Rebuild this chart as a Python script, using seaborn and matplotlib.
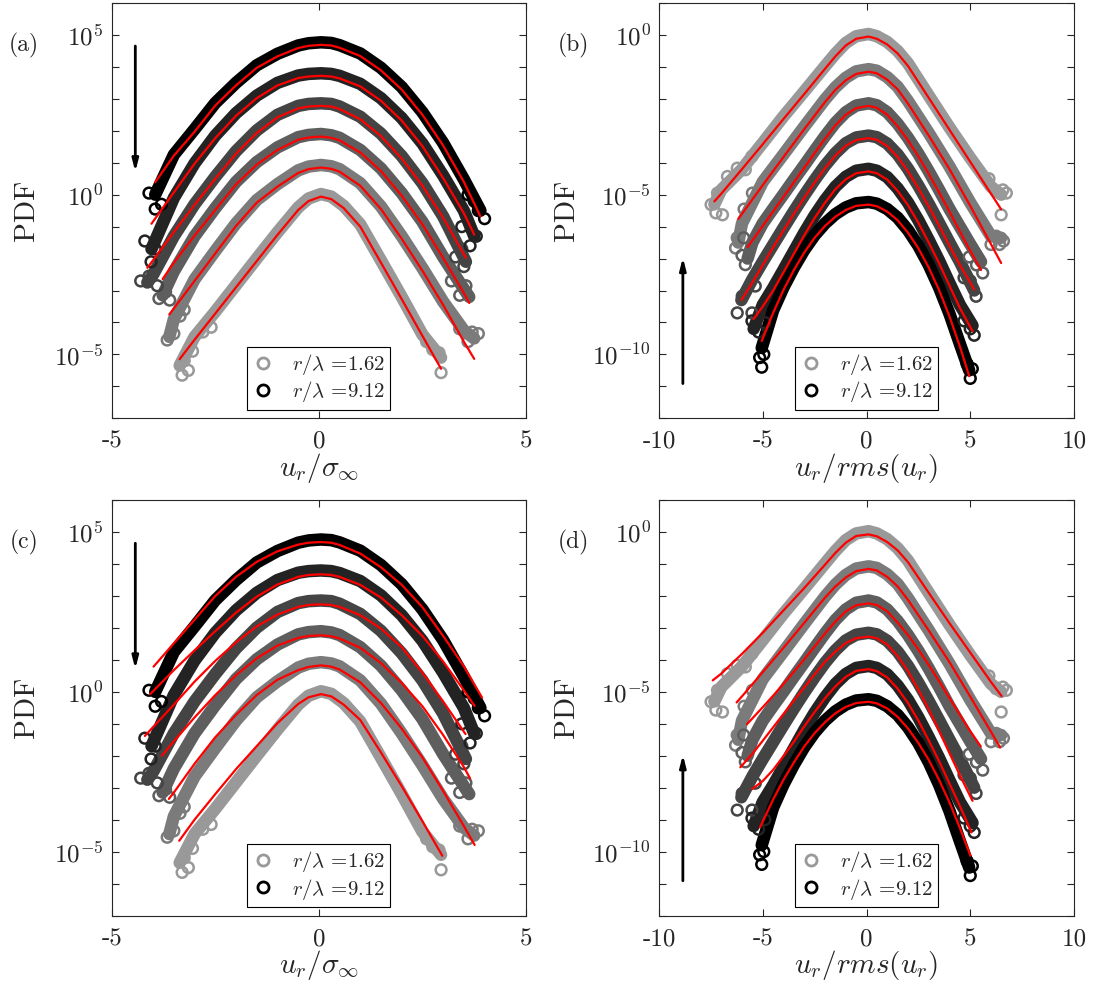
import numpy as np
import matplotlib
matplotlib.use("Agg")
import matplotlib.pyplot as plt
from matplotlib.lines import Line2D
from matplotlib.ticker import NullLocator
import seaborn as sns

# Values are log10(PDF).
# Six separations per panel, light grey (r/lambda=1.62) ... black (r/lambda=9.12).
SHADES = ["#999999", "#7b7b7b", "#5e5e5e", "#444444", "#232323", "#000000"]
LEGEND_LABELS = [r"$r/\lambda$ =1.62", r"$r/\lambda$ =9.12"]
PANEL_LABELS = ["(a)", "(b)", "(c)", "(d)"]
XLABEL_AC = r"$u_r/\sigma_\infty$"
XLABEL_BD = r"$u_r/rms(u_r)$"
XTICKS_AC = [-5, 0, 5]
XTICKLABELS_AC = ["-5", "0", "5"]
XTICKS_BD = [-10, -5, 0, 5, 10]
XTICKLABELS_BD = ["-10", "-5", "0", "5", "10"]
YLABELLED_AC = [-5, 0, 5]
YLABELLED_BD = [-10, -5, 0]

# ---- panels (a) and (c): u_r / sigma_inf ----
A_X = [
    [-3.36, -3.0, -2.5, -2.0, -1.5, -1.0, -0.5, -0.25, 0.05, 0.3, 0.6, 1.0, 1.5, 2.0, 2.5, 2.95],
    [-3.61, -3.5, -3.0, -2.5, -2.0, -1.5, -1.0, -0.5, -0.25, 0.05, 0.3, 0.5, 1.0, 1.5, 2.0, 2.5, 3.0, 3.5, 3.75],
    [-3.77, -3.5, -3.0, -2.5, -2.0, -1.5, -1.0, -0.5, -0.25, 0.05, 0.3, 0.5, 1.0, 1.5, 2.0, 2.5, 3.0, 3.5, 3.63],
    [-4.14, -4.0, -3.5, -3.0, -2.5, -2.0, -1.5, -1.0, -0.5, -0.25, 0.05, 0.3, 0.5, 1.0, 1.5, 2.0, 2.5, 3.0, 3.55],
    [-4.04, -3.5, -3.0, -2.5, -2.0, -1.5, -1.0, -0.5, -0.25, 0.05, 0.3, 0.5, 1.0, 1.5, 2.0, 2.5, 3.0, 3.5, 3.75],
    [-3.95, -3.5, -3.0, -2.5, -2.0, -1.5, -1.0, -0.5, -0.25, 0.05, 0.3, 0.5, 1.0, 1.5, 2.0, 2.5, 3.0, 3.5, 3.9],
]
A_LOG = [
    [-5.35, -4.45, -3.66, -2.83, -2.0, -1.18, -0.4, -0.12, 0.02, -0.06, -0.35, -0.93, -2.06, -3.2, -4.38, -5.1],
    [-4.45, -3.9, -2.65, -1.76, -0.9, -0.17, 0.33, 0.76, 0.88, 0.93, 0.89, 0.8, 0.36, -0.37, -1.3, -2.3, -3.35,
     -4.25, -4.5],
    [-3.15, -2.4, -1.3, -0.42, 0.4, 1.02, 1.48, 1.8, 1.87, 1.9, 1.86, 1.78, 1.4, 0.82, 0.05, -0.85, -1.95,
     -2.95, -3.2],
    [-2.75, -2.5, -1.3, -0.3, 0.56, 1.36, 2.01, 2.5, 2.78, 2.84, 2.86, 2.84, 2.76, 2.44, 1.91, 1.21, 0.36,
     -0.68, -2.1],
    [-1.7, -0.1, 0.98, 1.85, 2.55, 3.1, 3.5, 3.73, 3.78, 3.8, 3.78, 3.72, 3.47, 3.02, 2.4, 1.6, 0.6, -0.5, -1.3],
    [0.0, 1.25, 2.05, 2.87, 3.5, 4.05, 4.41, 4.67, 4.74, 4.77, 4.75, 4.68, 4.42, 3.97, 3.37, 2.58, 1.62, 0.48,
     -0.5],
]
A_TAIL_X = [-3.3, -3.15, -3.25, -3.05, -2.8, -2.6, 2.95, 2.75, 2.9, 2.6,
            -3.66, -3.5, -3.35, -3.25, 3.4, 3.6, 3.85, 3.7,
            -3.86, -3.7, -3.6, 3.2, 3.4, 3.55,
            -4.3, -4.1, -3.9, 3.3, 3.5, 3.45,
            -4.2, -4.05, -3.95, 3.45, 3.65, 3.8,
            -4.1, -3.95, -3.8, 3.6, 3.85, 4.0, 3.75]
A_TAIL_LOG = [-5.65, -5.5, -5.2, -4.9, -4.3, -4.15, -5.57, -4.85, -4.95, -4.6,
              -4.55, -4.35, -3.8, -3.6, -4.2, -4.6, -4.35, -4.3,
              -3.25, -3.05, -3.3, -2.7, -3.15, -2.85,
              -2.7, -2.55, -2.85, -1.95, -2.25, -1.7,
              -1.45, -2.1, -1.7, -1.0, -1.6, -1.3,
              0.05, -0.45, -0.3, 0.0, -0.5, -0.75, -0.2]
A_TAIL_CURVE = [0] * 10 + [1] * 8 + [2] * 6 + [3] * 6 + [4] * 6 + [5] * 7

A_FIT_LOG = [
    [-5.15, -4.54, -3.72, -2.90, -2.08, -1.26, -0.48, -0.2, -0.06, -0.14, -0.42, -1.0, -2.13, -3.27, -4.42, -5.45],
    [-3.75, -3.56, -2.70, -1.84, -0.98, -0.25, 0.25, 0.68, 0.8, 0.85, 0.81, 0.72, 0.28, -0.45, -1.38, -2.38,
     -3.45, -4.6, -5.14],
    [-2.64, -2.13, -1.28, -0.48, 0.32, 0.94, 1.40, 1.72, 1.79, 1.82, 1.78, 1.70, 1.32, 0.74, -0.03, -0.93,
     -1.98, -3.08, -3.39],
    [-2.29, -2.05, -1.17, -0.32, 0.50, 1.28, 1.93, 2.42, 2.70, 2.76, 2.78, 2.76, 2.68, 2.36, 1.83, 1.13, 0.28,
     -0.72, -1.98],
    [-0.91, 0.07, 0.97, 1.77, 2.47, 3.02, 3.42, 3.65, 3.70, 3.72, 3.70, 3.64, 3.39, 2.94, 2.32, 1.52, 0.52,
     -0.58, -1.25],
    [0.39, 1.22, 1.97, 2.79, 3.42, 3.97, 4.33, 4.59, 4.66, 4.69, 4.67, 4.60, 4.34, 3.89, 3.29, 2.50, 1.54,
     0.40, -0.68],
]
C_FIT_X = [
    [-3.37, -3.0, -2.5, -2.0, -1.5, -1.0, -0.5, -0.25, 0.05, 0.3, 0.6, 1.0, 1.5, 2.0, 2.5, 2.98],
    [-3.62, -3.5, -3.0, -2.5, -2.0, -1.5, -1.0, -0.5, -0.25, 0.05, 0.3, 0.5, 1.0, 1.5, 2.0, 2.5, 3.0, 3.5, 3.76],
    [-3.79, -3.5, -3.0, -2.5, -2.0, -1.5, -1.0, -0.5, -0.25, 0.05, 0.3, 0.5, 1.0, 1.5, 2.0, 2.5, 3.0, 3.5, 3.65],
    [-4.2, -4.0, -3.5, -3.0, -2.5, -2.0, -1.5, -1.0, -0.5, -0.25, 0.05, 0.3, 0.5, 1.0, 1.5, 2.0, 2.5, 3.0, 3.54],
    [-4.07, -3.5, -3.0, -2.5, -2.0, -1.5, -1.0, -0.5, -0.25, 0.05, 0.3, 0.5, 1.0, 1.5, 2.0, 2.5, 3.0, 3.5, 3.76],
    [-3.99, -3.5, -3.0, -2.5, -2.0, -1.5, -1.0, -0.5, -0.25, 0.05, 0.3, 0.5, 1.0, 1.5, 2.0, 2.5, 3.0, 3.5, 3.94],
]
C_FIT_LOG = [
    [-4.66, -4.0, -3.2, -2.42, -1.7, -0.98, -0.38, -0.17, -0.07, -0.14, -0.4, -0.88, -1.9, -2.95, -4.05, -5.13],
    [-3.35, -3.15, -2.25, -1.42, -0.72, -0.1, 0.38, 0.68, 0.78, 0.83, 0.79, 0.7, 0.3, -0.35, -1.15, -2.05,
     -3.1, -4.2, -4.79],
    [-2.0, -1.55, -0.8, -0.1, 0.52, 1.05, 1.45, 1.69, 1.75, 1.77, 1.74, 1.67, 1.38, 0.9, 0.28, -0.45, -1.35,
     -2.35, -2.71],
    [-1.38, -1.1, -0.4, 0.32, 0.97, 1.55, 2.05, 2.42, 2.66, 2.72, 2.74, 2.72, 2.66, 2.4, 1.98, 1.4, 0.6, -0.3,
     -1.32],
    [-0.07, 0.68, 1.3, 1.9, 2.48, 2.98, 3.36, 3.6, 3.66, 3.68, 3.66, 3.6, 3.35, 2.95, 2.4, 1.75, 0.95, 0.05,
     -0.44],
    [0.79, 1.52, 2.26, 3.0, 3.6, 4.07, 4.4, 4.61, 4.67, 4.69, 4.67, 4.6, 4.33, 3.9, 3.35, 2.65, 1.75, 0.8,
     -0.18],
]

# ---- panels (b) and (d): u_r / rms(u_r) ----
B_X = [
    [-7.33, -7.0, -6.0, -5.0, -4.0, -3.0, -2.0, -1.5, -1.0, -0.5, 0.1, 0.5, 1.0, 1.5, 2.0, 3.0, 4.0, 5.0, 6.0, 6.49],
    [-6.18, -6.0, -5.0, -4.0, -3.0, -2.0, -1.5, -1.0, -0.5, 0.1, 0.5, 1.0, 1.5, 2.0, 3.0, 4.0, 5.0, 6.0, 6.49],
    [-5.73, -5.5, -5.0, -4.5, -4.0, -3.5, -3.0, -2.5, -2.0, -1.5, -1.0, -0.5, 0.1, 0.5, 1.0, 1.5, 2.0, 2.5,
     3.0, 3.5, 4.0, 4.5, 5.0, 5.52],
    [-6.03, -5.5, -5.0, -4.5, -4.0, -3.5, -3.0, -2.5, -2.0, -1.5, -1.0, -0.5, 0.1, 0.5, 1.0, 1.5, 2.0, 2.5,
     3.0, 3.5, 4.0, 4.5, 5.19],
    [-5.44, -5.0, -4.5, -4.0, -3.5, -3.0, -2.5, -2.0, -1.5, -1.0, -0.5, 0.1, 0.5, 1.0, 1.5, 2.0, 2.5, 3.0,
     3.5, 4.0, 4.5, 5.11],
    [-5.05, -4.5, -4.0, -3.5, -3.0, -2.5, -2.0, -1.5, -1.0, -0.5, 0.1, 0.5, 1.0, 1.5, 2.0, 2.5, 3.0, 3.5,
     4.0, 4.5, 4.95],
]
B_LOG = [
    [-5.3, -4.85, -4.2, -3.38, -2.55, -1.77, -0.98, -0.59, -0.25, -0.04, 0.03, -0.04, -0.22, -0.5, -0.89,
     -1.9, -2.9, -3.85, -4.75, -5.0],
    [-6.5, -5.9, -4.6, -3.74, -2.87, -2.02, -1.64, -1.34, -1.14, -1.07, -1.12, -1.32, -1.62, -2.07, -3.07,
     -4.12, -5.25, -6.3, -6.35],
    [-7.0, -6.5, -5.9, -5.44, -4.99, -4.53, -4.08, -3.62, -3.17, -2.75, -2.42, -2.21, -2.14, -2.2, -2.42,
     -2.78, -3.22, -3.72, -4.27, -4.85, -5.45, -6.0, -6.55, -7.1],
    [-8.3, -7.65, -7.1, -6.57, -6.04, -5.52, -5.02, -4.54, -4.09, -3.7, -3.39, -3.21, -3.15, -3.2, -3.4,
     -3.74, -4.19, -4.72, -5.29, -5.89, -6.5, -7.1, -8.0],
    [-9.2, -8.45, -7.92, -7.35, -6.77, -6.19, -5.65, -5.17, -4.75, -4.44, -4.25, -4.19, -4.25, -4.45, -4.8,
     -5.25, -5.8, -6.42, -7.07, -7.77, -8.45, -9.1],
    [-9.8, -8.62, -7.9, -7.28, -6.73, -6.27, -5.9, -5.61, -5.4, -5.27, -5.23, -5.28, -5.45, -5.72, -6.11,
     -6.6, -7.2, -7.91, -8.73, -9.67, -10.5],
]
B_TAIL_X = [-7.49, -7.26, -6.94, -7.18, -6.7, -6.23, -5.84, -5.52, 6.25, 6.57, 6.49, 6.74, 5.9,
            -6.31, -6.23, -5.9, -5.5, 6.25, 6.41, 6.0, 6.6,
            -5.92, -5.84, -6.0, 4.95, 5.3, 5.6,
            -6.23, -5.99, -5.52, -5.36, 4.7, 5.0, 5.28,
            -5.52, -5.2, -4.9, 4.7, 5.19, 5.0,
            -5.05, -5.15, -4.95, 4.85, 5.0, 5.1]
B_TAIL_LOG = [-5.31, -5.57, -5.63, -4.95, -4.43, -4.17, -4.22, -3.8, -4.9, -4.85, -5.63, -4.95, -4.5,
              -6.67, -6.35, -5.45, -4.95, -6.3, -6.56, -6.56, -6.45,
              -6.35, -7.19, -6.9, -6.95, -7.2, -7.45,
              -8.7, -8.18, -8.7, -7.86, -7.6, -7.7, -8.18,
              -8.95, -9.3, -9.0, -8.95, -9.4, -9.2,
              -10.4, -10.1, -10.0, -10.3, -10.75, -10.45]
B_TAIL_CURVE = [0] * 13 + [1] * 8 + [2] * 6 + [3] * 7 + [4] * 6 + [5] * 6

B_FIT_LOG = [
    [-5.21, -4.97, -4.2, -3.42, -2.63, -1.85, -1.06, -0.67, -0.33, -0.12, -0.05, -0.12, -0.3, -0.58, -0.97,
     -1.97, -2.97, -3.97, -4.97, -5.46],
    [-5.76, -5.6, -4.7, -3.82, -2.95, -2.1, -1.72, -1.42, -1.22, -1.15, -1.2, -1.4, -1.7, -2.15, -3.15,
     -4.2, -5.35, -6.55, -7.14],
    [-6.64, -6.43, -5.98, -5.52, -5.07, -4.61, -4.16, -3.7, -3.25, -2.83, -2.5, -2.29, -2.22, -2.28, -2.5,
     -2.86, -3.3, -3.8, -4.35, -4.93, -5.53, -6.15, -6.76, -7.36],
    [-8.3, -7.75, -7.2, -6.65, -6.12, -5.6, -5.1, -4.62, -4.17, -3.78, -3.47, -3.29, -3.23, -3.28, -3.48,
     -3.82, -4.27, -4.8, -5.37, -5.97, -6.6, -7.2, -7.97],
    [-8.89, -8.5, -8.0, -7.43, -6.85, -6.27, -5.73, -5.25, -4.83, -4.52, -4.33, -4.27, -4.33, -4.53, -4.88,
     -5.33, -5.88, -6.5, -7.15, -7.85, -8.55, -9.27],
    [-9.58, -8.7, -7.98, -7.36, -6.81, -6.35, -5.98, -5.69, -5.48, -5.35, -5.31, -5.36, -5.53, -5.8, -6.19,
     -6.68, -7.28, -7.99, -8.81, -9.75, -10.68],
]
D_FIT_X = [
    [-7.41, -7.0, -6.0, -5.0, -4.0, -3.0, -2.0, -1.5, -1.0, -0.5, 0.1, 0.5, 1.0, 1.5, 2.0, 3.0, 4.0, 5.0, 6.0, 6.51],
    [-6.26, -6.0, -5.0, -4.0, -3.0, -2.0, -1.5, -1.0, -0.5, 0.1, 0.5, 1.0, 1.5, 2.0, 3.0, 4.0, 5.0, 6.0, 6.44],
    [-5.76, -5.5, -5.0, -4.5, -4.0, -3.5, -3.0, -2.5, -2.0, -1.5, -1.0, -0.5, 0.1, 0.5, 1.0, 1.5, 2.0, 2.5,
     3.0, 3.5, 4.0, 4.5, 5.0, 5.51],
    [-6.08, -5.5, -5.0, -4.5, -4.0, -3.5, -3.0, -2.5, -2.0, -1.5, -1.0, -0.5, 0.1, 0.5, 1.0, 1.5, 2.0, 2.5,
     3.0, 3.5, 4.0, 4.5, 5.11],
    [-5.51, -5.0, -4.5, -4.0, -3.5, -3.0, -2.5, -2.0, -1.5, -1.0, -0.5, 0.1, 0.5, 1.0, 1.5, 2.0, 2.5, 3.0,
     3.5, 4.0, 4.5, 5.06],
    [-5.13, -4.5, -4.0, -3.5, -3.0, -2.5, -2.0, -1.5, -1.0, -0.5, 0.1, 0.5, 1.0, 1.5, 2.0, 2.5, 3.0, 3.5,
     4.0, 4.5, 5.01],
]
D_FIT_LOG = [
    [-4.64, -4.43, -3.81, -3.15, -2.45, -1.75, -1.02, -0.65, -0.33, -0.12, -0.07, -0.13, -0.31, -0.57, -0.94,
     -1.9, -2.85, -3.77, -4.69, -5.13],
    [-5.33, -5.14, -4.38, -3.62, -2.84, -2.05, -1.7, -1.42, -1.22, -1.15, -1.2, -1.4, -1.7, -2.12, -3.08,
     -4.07, -5.15, -6.25, -6.74],
    [-6.01, -5.83, -5.48, -5.12, -4.75, -4.37, -3.98, -3.58, -3.17, -2.8, -2.48, -2.29, -2.23, -2.28, -2.48,
     -2.83, -3.22, -3.67, -4.16, -4.67, -5.19, -5.72, -6.23, -6.71],
    [-7.36, -6.94, -6.53, -6.11, -5.69, -5.27, -4.86, -4.45, -4.06, -3.74, -3.47, -3.32, -3.27, -3.32, -3.52,
     -3.88, -4.35, -4.93, -5.55, -6.22, -6.92, -7.61, -8.41],
    [-8.04, -7.79, -7.44, -7.01, -6.56, -6.08, -5.63, -5.2, -4.83, -4.53, -4.34, -4.29, -4.35, -4.55, -4.9,
     -5.35, -5.9, -6.52, -7.17, -7.87, -8.57, -9.4],
    [-9.24, -8.37, -7.75, -7.21, -6.71, -6.29, -5.95, -5.67, -5.47, -5.35, -5.31, -5.36, -5.52, -5.78, -6.15,
     -6.6, -7.13, -7.76, -8.46, -9.26, -10.13],
]

sns.set_style("ticks")
plt.rcParams["font.family"] = ["cmr10", "DejaVu Serif"]
plt.rcParams["mathtext.fontset"] = "cm"
plt.rcParams["axes.unicode_minus"] = False
plt.rcParams["axes.formatter.use_mathtext"] = False

FRAME = "#262626"


def draw_panel(ax, xs, logs, tail_x, tail_log, tail_curve, fit_xs, fit_logs):
    for i in range(6):
        sns.lineplot(x=xs[i], y=10.0 ** np.array(logs[i]), ax=ax, color=SHADES[i], lw=9,
                     sort=False, estimator=None, solid_capstyle="round", solid_joinstyle="round")
        tx = [x for x, c in zip(tail_x, tail_curve) if c == i]
        ty = [10.0 ** v for v, c in zip(tail_log, tail_curve) if c == i]
        sns.scatterplot(x=tx, y=ty, ax=ax, color=SHADES[i], facecolors="none",
                        edgecolor=SHADES[i], s=60, linewidth=1.8, zorder=3)
    for i in range(6):
        sns.lineplot(x=fit_xs[i], y=10.0 ** np.array(fit_logs[i]), ax=ax, color="red", lw=1.6,
                     sort=False, estimator=None, zorder=4)


def style_axes(ax, xlim, xticks, xticklabels, ylo, yhi, ylabelled, xlabel):
    ax.set_yscale("log")
    ax.set_xlim(*xlim)
    ax.set_ylim(10.0 ** ylo, 10.0 ** yhi)
    ax.set_xticks(xticks)
    ax.set_xticklabels(xticklabels)
    decades = list(range(ylo, yhi + 1))
    ax.set_yticks([10.0 ** k for k in decades])
    ax.set_yticklabels([f"$10^{{{k}}}$" if k in ylabelled else "" for k in decades])
    ax.yaxis.set_minor_locator(NullLocator())
    ax.tick_params(direction="in", top=True, right=True, length=5, width=0.8,
                   color=FRAME, labelsize=18, pad=6)
    ax.tick_params(axis="x", pad=9)
    for s in ax.spines.values():
        s.set_color(FRAME)
        s.set_linewidth(0.8)
    ax.set_xlabel(xlabel, fontsize=21)
    ax.set_ylabel("PDF", fontsize=21)
    handles = [Line2D([], [], marker="o", ls="none", mfc="none", mec=SHADES[0], mew=2, ms=8),
               Line2D([], [], marker="o", ls="none", mfc="none", mec=SHADES[5], mew=2, ms=8)]
    leg = ax.legend(handles, LEGEND_LABELS, loc="lower center", bbox_to_anchor=(0.5, 0.021),
                    frameon=True, fancybox=False, edgecolor="black", framealpha=1, fontsize=15,
                    handlelength=1.0, handletextpad=0.9, borderpad=0.25, labelspacing=0.1,
                    borderaxespad=0.0)
    leg.get_frame().set_linewidth(0.8)


fig = plt.figure(figsize=(10.95, 9.94), dpi=100)
W, H = 1095.0, 994.0
ax_a = fig.add_axes([111.7 / W, 1 - 418.3 / H, 414.3 / W, 415.3 / H])
ax_b = fig.add_axes([659.0 / W, 1 - 418.3 / H, 415.0 / W, 415.3 / H])
ax_c = fig.add_axes([111.7 / W, 1 - 915.5 / H, 414.3 / W, 415.3 / H])
ax_d = fig.add_axes([659.0 / W, 1 - 915.5 / H, 415.0 / W, 415.3 / H])

draw_panel(ax_a, A_X, A_LOG, A_TAIL_X, A_TAIL_LOG, A_TAIL_CURVE, A_X, A_FIT_LOG)
draw_panel(ax_c, A_X, A_LOG, A_TAIL_X, A_TAIL_LOG, A_TAIL_CURVE, C_FIT_X, C_FIT_LOG)
draw_panel(ax_b, B_X, B_LOG, B_TAIL_X, B_TAIL_LOG, B_TAIL_CURVE, B_X, B_FIT_LOG)
draw_panel(ax_d, B_X, B_LOG, B_TAIL_X, B_TAIL_LOG, B_TAIL_CURVE, D_FIT_X, D_FIT_LOG)

for ax in (ax_a, ax_c):
    style_axes(ax, (-5, 5), XTICKS_AC, XTICKLABELS_AC, -7, 6, YLABELLED_AC, XLABEL_AC)
    ax.yaxis.set_label_coords(-0.172, 0.5)
    ax.xaxis.set_label_coords(0.5, -0.078)
    # arrow: increasing r/lambda goes downward
    ax.annotate("", xy=(-4.43, 10 ** 0.63), xytext=(-4.43, 10 ** 4.74),
                arrowprops=dict(arrowstyle="-|>,head_width=0.18,head_length=0.7", lw=2, color="black"))
for ax in (ax_b, ax_d):
    style_axes(ax, (-10, 10), XTICKS_BD, XTICKLABELS_BD, -12, 1, YLABELLED_BD, XLABEL_BD)
    ax.yaxis.set_label_coords(-0.19, 0.5)
    ax.xaxis.set_label_coords(0.5, -0.078)
    ax.annotate("", xy=(-8.85, 10 ** -6.88), xytext=(-8.85, 10 ** -11.0),
                arrowprops=dict(arrowstyle="-|>,head_width=0.18,head_length=0.7", lw=2, color="black"))

for lab, (px, py) in zip(PANEL_LABELS, [(24, 45), (573, 45), (24, 542), (573, 542)]):
    fig.text(px / W, 1 - py / H, lab, fontsize=17, ha="center", va="center")

fig.savefig("out.png", dpi=100)
